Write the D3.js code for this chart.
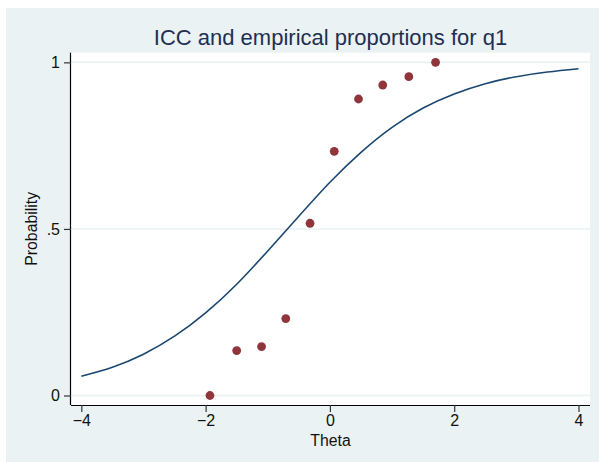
<!DOCTYPE html>
<html>
<head>
<meta charset="utf-8">
<script src="https://cdn.jsdelivr.net/npm/d3@7"></script>
<style>
  html, body { margin: 0; padding: 0; background: #ffffff; }
  svg { display: block; font-family: "Liberation Sans", Arial, Helvetica, sans-serif; }
</style>
</head>
<body>
<svg id="chart" width="599" height="462"></svg>
<script>
// ---- data ----
const titleText = "ICC and empirical proportions for q1";
const xTitle = "Theta";
const yTitle = "Probability";
const xTicks = [-4, -2, 0, 2, 4];
const yTicks = [0, 0.5, 1];
const yTickLabels = ["0", ".5", "1"];

// empirical proportions (points)
const empTheta = [-1.93, -1.50, -1.10, -0.71, -0.32, 0.07, 0.46, 0.85, 1.27, 1.70];
const empProp  = [0.000, 0.135, 0.147, 0.231, 0.517, 0.733, 0.890, 0.932, 0.957, 1.000];

// ICC curve
const iccTheta = [-4, -3.5, -3, -2.5, -2, -1.5, -1, -0.5, 0, 0.5, 1, 1.5, 2, 2.5, 3, 3.5, 4];
const iccProb  = [0.058, 0.085, 0.124, 0.178, 0.248, 0.334, 0.434, 0.538, 0.640, 0.730, 0.805, 0.863, 0.905, 0.936, 0.957, 0.971, 0.981];

// ---- drawing ----
const svg = d3.select("#chart");
const W = 599, H = 462;
const plot = { left: 71, right: 590, top: 52.7, bottom: 405 };

// outer graph region
svg.append("rect").attr("x", 6).attr("y", 8).attr("width", W - 6).attr("height", H - 8)
  .attr("fill", "#eaf2f3");
// plot region
svg.append("rect").attr("x", plot.left).attr("y", plot.top)
  .attr("width", plot.right - plot.left).attr("height", plot.bottom - plot.top)
  .attr("fill", "#ffffff");

const x = d3.scaleLinear().domain([-4.166, 4.185]).range([plot.left, plot.right]);
const y = d3.scaleLinear().domain([-0.0285, 1.029]).range([plot.bottom, plot.top]);

// gridlines
svg.append("g").selectAll("line").data(yTicks).join("line")
  .attr("x1", plot.left).attr("x2", plot.right)
  .attr("y1", d => y(d)).attr("y2", d => y(d))
  .attr("stroke", "#eaf2f3").attr("stroke-width", 1.5);

const fmtMinus = d => (d < 0 ? "\u2212" + Math.abs(d) : String(d));

// x axis
const xAxis = d3.axisBottom(x).tickValues(xTicks).tickSize(7).tickPadding(3).tickFormat(fmtMinus);
const gx = svg.append("g").attr("transform", `translate(0,${plot.bottom})`).call(xAxis);
gx.select(".domain").attr("d", `M${plot.left},0.5H${plot.right}`).attr("stroke", "#000").attr("stroke-width", 1.2);
gx.selectAll(".tick line").attr("stroke", "#333").attr("stroke-width", 1.2);
gx.selectAll(".tick text").attr("font-size", 16).attr("fill", "#111")
  .attr("font-family", "'Liberation Sans', Arial, sans-serif");

// y axis
const yAxis = d3.axisLeft(y).tickValues(yTicks).tickSize(7).tickPadding(4)
  .tickFormat((d, i) => yTickLabels[i]);
const gy = svg.append("g").attr("transform", `translate(${plot.left},0)`).call(yAxis);
gy.select(".domain").attr("d", `M-0.5,${plot.top}V${plot.bottom}`).attr("stroke", "#000").attr("stroke-width", 1.2);
gy.selectAll(".tick line").attr("stroke", "#333").attr("stroke-width", 1.2);
gy.selectAll(".tick text").attr("font-size", 16).attr("fill", "#111")
  .attr("font-family", "'Liberation Sans', Arial, sans-serif");

// ICC curve
const iccData = iccTheta.map((t, i) => ({ t, p: iccProb[i] }));
svg.append("path").datum(iccData)
  .attr("fill", "none").attr("stroke", "#1a476f").attr("stroke-width", 1.6)
  .attr("d", d3.line().x(d => x(d.t)).y(d => y(d.p)).curve(d3.curveNatural));

// empirical points
const empData = empTheta.map((t, i) => ({ t, p: empProp[i] }));
svg.append("g").selectAll("circle").data(empData).join("circle")
  .attr("cx", d => x(d.t)).attr("cy", d => y(d.p)).attr("r", 4.4)
  .attr("fill", "#90353b");

// title
svg.append("text").attr("x", (plot.left + plot.right) / 2).attr("y", 45)
  .attr("text-anchor", "middle").attr("font-size", 22).attr("fill", "#1f2f52")
  .text(titleText);

// axis titles
svg.append("text").attr("x", (plot.left + plot.right) / 2).attr("y", 446)
  .attr("text-anchor", "middle").attr("font-size", 15.8).attr("fill", "#111")
  .text(xTitle);
svg.append("text")
  .attr("transform", `translate(37,${(plot.top + plot.bottom) / 2}) rotate(-90)`)
  .attr("text-anchor", "middle").attr("font-size", 15.8).attr("fill", "#111")
  .text(yTitle);
</script>
</body>
</html>
